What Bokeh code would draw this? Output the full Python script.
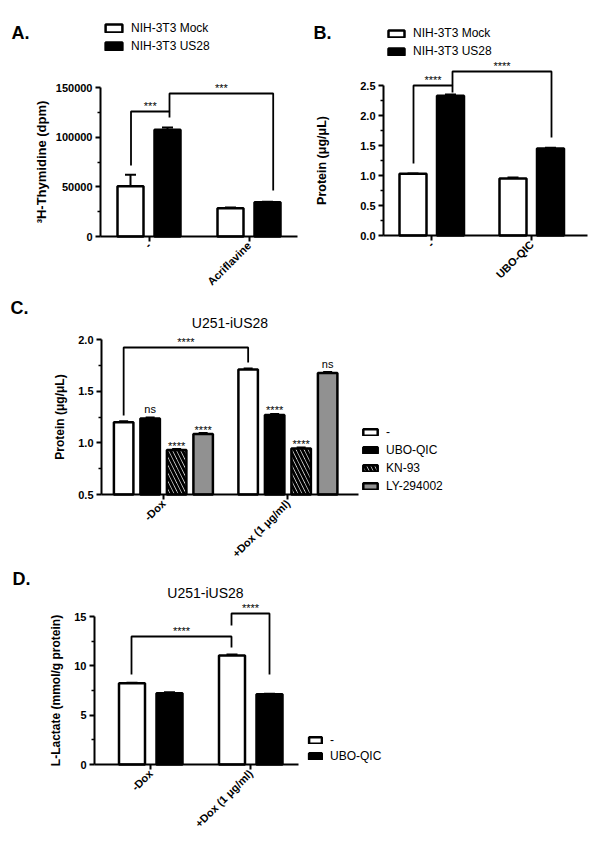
import math
from bokeh.plotting import figure
from bokeh.models import (Range1d, FixedTicker, Legend, LegendItem, Label,
                          NumeralTickFormatter, CanvasTexture)
from bokeh.layouts import column, row
from bokeh.embed import file_html
from bokeh.resources import INLINE
from bokeh.core.properties import value

# ---------------- data ----------------
# Panel A
a_groups = ["-", "Acriflavine"]
a_mock = [50600, 28500]
a_mock_err = [11500, 700]
a_us28 = [107500, 34500]
a_us28_err = [2200, 400]

# Panel B
b_groups = ["-", "UBO-QIC"]
b_mock = [1.03, 0.95]
b_mock_err = [0.005, 0.015]
b_us28 = [2.33, 1.45]
b_us28_err = [0.02, 0.012]

# Panel C
c_groups = ["-Dox", "+Dox (1 \u03bcg/ml)"]
c_series = ["-", "UBO-QIC", "KN-93", "LY-294002"]
c_none = [1.20, 1.71]
c_ubo = [1.235, 1.27]
c_kn = [0.93, 0.945]
c_ly = [1.085, 1.675]
c_err = [0.01, 0.01]
c_marks_ubo = ["ns", "****"]
c_marks_kn = ["****", "****"]
c_marks_ly = ["****", "ns"]

# Panel D
d_groups = ["-Dox", "+Dox (1 \u03bcg/ml)"]
d_series = ["-", "UBO-QIC"]
d_none = [8.24, 11.04]
d_none_err = [0.05, 0.12]
d_ubo = [7.22, 7.12]
d_ubo_err = [0.1, 0.05]

FONT = "Liberation Sans"

checker = CanvasTexture(code="""
var h = scale / 2;
ctx.fillStyle = 'black';
ctx.fillRect(0, 0, h, h);
ctx.fillRect(h, h, h, h);
""", repetition="repeat")


class Panel:
    pass


def make_fig(ox, oy, W, H, axl, axr, fb, y0, y1, ytop_px, xc0, xppu):
    """Frame covers the whole figure; both axes are pinned at the data origin."""
    yppu = (fb - ytop_px) / (y1 - y0)
    ys, ye = y0 - (oy + H - fb) / yppu, y0 + (fb - oy) / yppu
    xs, xe = -(xc0 - ox) / xppu, (ox + W - xc0) / xppu
    p = figure(width=W, height=H, x_range=Range1d(xs, xe), y_range=Range1d(ys, ye),
               output_backend="svg", toolbar_location=None,
               min_border_left=0, min_border_right=0,
               min_border_top=0, min_border_bottom=0)
    p.outline_line_color = None
    p.background_fill_color = "white"
    p.border_fill_color = "white"
    p.xgrid.visible = False
    p.ygrid.visible = False
    for ax in (p.xaxis[0], p.yaxis[0]):
        ax.axis_line_width = 2
        ax.axis_line_color = "black"
        ax.major_tick_line_width = 2
        ax.major_tick_line_color = "black"
        ax.major_tick_out = 5
        ax.major_tick_in = 0
        ax.major_label_text_font = FONT
        ax.major_label_text_font_style = "bold"
        ax.major_label_text_font_size = "11px"
        ax.major_label_text_color = "black"
        ax.axis_label_text_font = FONT
        ax.axis_label_text_font_style = "bold"
        ax.axis_label_text_font_size = "12px"
        ax.axis_label_text_color = "black"
    ax_x = (axl - xc0) / xppu
    p.yaxis[0].fixed_location = ax_x
    p.xaxis[0].fixed_location = y0
    p.xaxis[0].bounds = (ax_x, (axr - xc0) / xppu)
    p.xaxis[0].minor_tick_line_color = None
    p.yaxis[0].minor_tick_line_width = 1.5
    p.yaxis[0].minor_tick_line_color = "black"
    p.yaxis[0].minor_tick_out = 3
    p.yaxis[0].minor_tick_in = 0
    p.yaxis[0].bounds = (y0, y1)
    p.yaxis[0].major_label_standoff = 3
    p.xaxis[0].major_label_standoff = 2
    p.xaxis[0].major_label_orientation = math.pi / 4
    info = Panel()
    info.yppu, info.xppu = yppu, xppu
    info.fl, info.fb = ox, oy + H
    return p, info


def set_xcats(p, groups):
    p.xaxis[0].ticker = FixedTicker(ticks=list(range(len(groups))))
    p.xaxis[0].major_label_overrides = {i: g for i, g in enumerate(groups)}


def bars(p, xs, tops, bottom, width, **kw):
    return p.vbar(x=xs, top=tops, bottom=bottom, width=width, line_color="black",
                  line_width=2.5, **kw)


def errs(p, xs, tops, es, capw):
    ends = [t + e for t, e in zip(tops, es)]
    p.segment(x0=xs, y0=tops, x1=xs, y1=ends, line_color="black", line_width=2)
    p.segment(x0=[x - capw / 2 for x in xs], y0=ends, x1=[x + capw / 2 for x in xs], y1=ends,
              line_color="black", line_width=2)


def bracket(p, xl, xr, yl, top, yr, label, yppu):
    p.multi_line(xs=[[xl, xl, xr, xr]], ys=[[yl, top, top, yr]], line_color="black",
                 line_width=1.8)
    p.text(x=[(xl + xr) / 2], y=[top + 6 / yppu], text=[label], text_align="center",
           text_baseline="middle", text_font=value(FONT), text_font_size="11px",
           text_color="black")


def legend(p, info, items, px_left, px_bottom, gw, gh, spacing, fs="12px"):
    # location in frame pixels from the frame's lower-left corner
    lg = Legend(items=[LegendItem(label=l, renderers=[r]) for l, r in items],
                location=(px_left - info.fl, info.fb - px_bottom), orientation="vertical")
    lg.margin = 0
    lg.padding = 0
    lg.border_line_color = None
    lg.background_fill_alpha = 0
    lg.glyph_width = gw
    lg.glyph_height = gh
    lg.label_height = 14
    lg.spacing = spacing
    lg.label_standoff = 7
    lg.label_text_font = FONT
    lg.label_text_font_size = fs
    lg.label_text_color = "black"
    p.add_layout(lg)


def panel_label(p, info, txt, px_x, px_base):
    p.add_layout(Label(x=px_x - info.fl, y=info.fb - px_base, x_units="screen",
                       y_units="screen", text=txt, text_font=FONT, text_font_style="bold",
                       text_font_size="18px", text_baseline="alphabetic", text_color="black"))


# ---------------- Panel A ----------------
pA, iA = make_fig(0, 0, 300, 291, 100, 297, 236, 0, 150000, 87, 148.5, 100)
set_xcats(pA, a_groups)
pA.yaxis[0].ticker = FixedTicker(ticks=[0, 50000, 100000, 150000],
                                 minor_ticks=[25000, 75000, 125000])
pA.yaxis[0].formatter = NumeralTickFormatter(format="0")
pA.yaxis[0].axis_label = "\u00b3H-Thymidine (dpm)"
pA.yaxis[0].axis_label_text_font_size = "13px"
pA.yaxis[0].axis_label_standoff = 4
offA = 0.185
xa_m = [i - offA for i in range(len(a_groups))]
xa_u = [i + offA for i in range(len(a_groups))]
rA1 = bars(pA, xa_m, a_mock, 0, 0.26, fill_color="white")
rA2 = bars(pA, xa_u, a_us28, 0, 0.26, fill_color="black")
errs(pA, xa_m, a_mock, a_mock_err, 11 / iA.xppu)
errs(pA, xa_u, a_us28, a_us28_err, 11 / iA.xppu)
pxA = lambda py: (236 - py) / iA.yppu
bracket(pA, -0.18, 0.205, pxA(165), pxA(111), pxA(117), "***", iA.yppu)
bracket(pA, 0.205, 1.242, pxA(111), pxA(93), pxA(190), "***", iA.yppu)
legend(pA, iA, [("NIH-3T3 Mock", rA1), ("NIH-3T3 US28", rA2)], 103, 53, 21, 10, 4)
panel_label(pA, iA, "A.", 11, 32)

# ---------------- Panel B ----------------
pB, iB = make_fig(300, 0, 300, 291, 383, 587, 235, 0, 2.5, 85, 431.25, 100)
set_xcats(pB, b_groups)
pB.yaxis[0].ticker = FixedTicker(ticks=[0, 0.5, 1.0, 1.5, 2.0, 2.5],
                                 minor_ticks=[0.25, 0.75, 1.25, 1.75, 2.25])
pB.yaxis[0].formatter = NumeralTickFormatter(format="0.0")
pB.yaxis[0].axis_label = "Protein (\u03bcg/\u03bcL)"
pB.yaxis[0].axis_label_text_font_size = "12.5px"
pB.yaxis[0].axis_label_standoff = 28
offB = 0.1875
xb_m = [i - offB for i in range(len(b_groups))]
xb_u = [i + offB for i in range(len(b_groups))]
rB1 = bars(pB, xb_m, b_mock, 0, 0.27, fill_color="white")
rB2 = bars(pB, xb_u, b_us28, 0, 0.27, fill_color="black")
errs(pB, xb_m, b_mock, b_mock_err, 11 / iB.xppu)
errs(pB, xb_u, b_us28, b_us28_err, 11 / iB.xppu)
pxB = lambda py: (235 - py) / iB.yppu
bracket(pB, -0.1825, 0.2075, pxB(163), pxB(85), pxB(92), "****", iB.yppu)
bracket(pB, 0.2075, 1.1975, pxB(85), pxB(71), pxB(137), "****", iB.yppu)
legend(pB, iB, [("NIH-3T3 Mock", rB1), ("NIH-3T3 US28", rB2)], 386, 58, 20, 9, 4)
panel_label(pB, iB, "B.", 313, 32)

# ---------------- Panel C ----------------
pC, iC = make_fig(0, 291, 600, 273, 101, 358, 494, 0.5, 2.0, 339, 162.9, 124.5)
set_xcats(pC, c_groups)
pC.yaxis[0].ticker = FixedTicker(ticks=[0.5, 1.0, 1.5, 2.0], minor_ticks=[0.75, 1.25, 1.75])
pC.yaxis[0].formatter = NumeralTickFormatter(format="0.0")
pC.yaxis[0].axis_label = "Protein (\u03bcg/\u03bcL)"
pC.yaxis[0].axis_label_standoff = 8
stepC = 26.5 / iC.xppu
wC = 19.5 / iC.xppu
c_vals = [c_none, c_ubo, c_kn, c_ly]
c_styles = [dict(fill_color="white"),
            dict(fill_color="black"),
            dict(fill_color="white", hatch_pattern=value("left_diagonal_line"),
                 hatch_color="black", hatch_scale=8, hatch_weight=3),
            dict(fill_color="white", hatch_pattern=value("checker"),
                 hatch_extra={"checker": checker}, hatch_color="black", hatch_scale=6)]
rC = []
xc_all = []
for k, (vals, st) in enumerate(zip(c_vals, c_styles)):
    xs = [i + (k - 1.5) * stepC for i in range(len(c_groups))]
    xc_all.append(xs)
    rC.append(bars(pC, xs, vals, 0.5, wC, **st))
    errs(pC, xs, vals, c_err, 9 / iC.xppu)
for k, marks in ((1, c_marks_ubo), (2, c_marks_kn), (3, c_marks_ly)):
    ys = [v + (9.5 if m == "ns" else 4.5) / iC.yppu for v, m in zip(c_vals[k], marks)]
    pC.text(x=xc_all[k], y=ys, text=marks, text_align="center", text_baseline="middle",
            text_font=value(FONT), text_font_size="11px", text_color="black")
pxC = lambda py: 0.5 + (494 - py) / iC.yppu
bracket(pC, xc_all[0][0], xc_all[0][1], pxC(415), pxC(347), pxC(362), "****", iC.yppu)
pC.text(x=[((101 + 358) / 2 - 162.9) / iC.xppu], y=[pxC(322.5)], text=["U251-iUS28"],
        text_align="center", text_baseline="middle", text_font=value(FONT),
        text_font_size="14px", text_color="black")
legend(pC, iC, list(zip(c_series, rC)), 361, 493, 18, 8, 4)
panel_label(pC, iC, "C.", 10, 307)

# ---------------- Panel D ----------------
pD, iD = make_fig(0, 564, 600, 293, 94, 298, 764, 0, 15, 616, 150.25, 100)
set_xcats(pD, d_groups)
pD.yaxis[0].ticker = FixedTicker(ticks=[0, 5, 10, 15], minor_ticks=[2.5, 7.5, 12.5])
pD.yaxis[0].formatter = NumeralTickFormatter(format="0")
pD.yaxis[0].axis_label = "L-Lactate (mmol/g protein)"
pD.yaxis[0].axis_label_standoff = 8
offD = 0.1875
xd_n = [i - offD for i in range(len(d_groups))]
xd_u = [i + offD for i in range(len(d_groups))]
rD1 = bars(pD, xd_n, d_none, 0, 0.26, fill_color="white")
rD2 = bars(pD, xd_u, d_ubo, 0, 0.26, fill_color="black")
errs(pD, xd_n, d_none, d_none_err, 11 / iD.xppu)
errs(pD, xd_u, d_ubo, d_ubo_err, 11 / iD.xppu)
pxD = lambda py: (764 - py) / iD.yppu
bracket(pD, -0.1925, 0.8075, pxD(674), pxD(636), pxD(647), "****", iD.yppu)
bracket(pD, 0.8075, 1.1875, pxD(625), pxD(613), pxD(674), "****", iD.yppu)
pD.text(x=[(205 - 150.25) / iD.xppu], y=[pxD(592)], text=["U251-iUS28"],
        text_align="center", text_baseline="middle", text_font=value(FONT),
        text_font_size="14px", text_color="black")
legend(pD, iD, list(zip(d_series, [rD1, rD2])), 307, 762.5, 16, 8, 2)
panel_label(pD, iD, "D.", 12, 578)

layout = column(row(pA, pB), pC, pD)
open("out.html", "w").write(file_html(layout, INLINE))
